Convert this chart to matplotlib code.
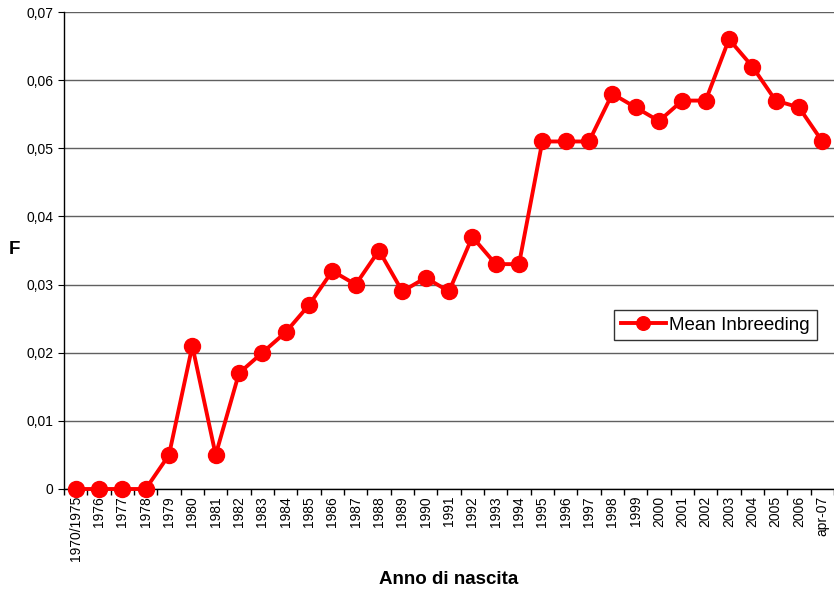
import matplotlib
matplotlib.use("Agg")
import matplotlib.pyplot as plt
from matplotlib.ticker import FuncFormatter, FixedLocator

plt.rcParams['font.family'] = ['Liberation Sans', 'DejaVu Sans']

years = ["1970/1975", "1976", "1977", "1978", "1979", "1980", "1981", "1982",
         "1983", "1984", "1985", "1986", "1987", "1988", "1989", "1990",
         "1991", "1992", "1993", "1994", "1995", "1996", "1997", "1998",
         "1999", "2000", "2001", "2002", "2003", "2004", "2005", "2006",
         "apr-07"]
mean_f = [0.0, 0.0, 0.0, 0.0, 0.005, 0.021, 0.005, 0.017,
          0.020, 0.023, 0.027, 0.032, 0.030, 0.035, 0.029, 0.031,
          0.029, 0.037, 0.033, 0.033, 0.051, 0.051, 0.051, 0.058,
          0.056, 0.054, 0.057, 0.057, 0.066, 0.062, 0.057, 0.056,
          0.051]

fig = plt.figure(figsize=(8.34, 5.96), dpi=100)
ax = fig.add_axes([64 / 834, 1 - 489 / 596, 770 / 834, 477 / 596])

x = list(range(len(years)))
ax.plot(x, mean_f, color="#ff0000", lw=2.8, marker="o", markersize=11.5,
        label="Mean Inbreeding", zorder=3, clip_on=False)

ax.set_xlim(-0.5, len(years) - 0.5)
ax.set_ylim(0, 0.07)
ax.set_yticks([i * 0.01 for i in range(8)])
ax.yaxis.set_major_formatter(FuncFormatter(
    lambda v, p: "0" if abs(v) < 1e-9 else f"{v:.2f}".replace(".", ",")))
ax.grid(axis="y", color="#606060", lw=1)
ax.set_axisbelow(True)

ax.set_xticks(x)
ax.set_xticklabels(years, rotation=90, fontsize=10)
ax.tick_params(axis="x", which="major", length=0, pad=5)
ax.xaxis.set_minor_locator(FixedLocator([i + 0.5 for i in range(-1, len(years))]))
ax.tick_params(axis="x", which="minor", length=4, width=1, color="black")
ax.tick_params(axis="y", length=4, labelsize=10, color="black")

for s in ["top", "right"]:
    ax.spines[s].set_visible(False)
for s in ["left", "bottom"]:
    ax.spines[s].set_color("black")
    ax.spines[s].set_linewidth(1)

ax.set_xlabel("Anno di nascita", fontsize=13.5, fontweight="bold", labelpad=7)
fig.text(14 / 834, 1 - 250 / 596, "F", fontsize=13.5, fontweight="bold",
         ha="center", va="center")

leg = ax.legend(loc="upper left", bbox_to_anchor=(550 / 770, 1 - 298 / 477),
                fontsize=13.5, frameon=True, fancybox=False, borderpad=0.35,
                borderaxespad=0, handlelength=2.4, handletextpad=0.2,
                markerscale=0.85)
leg.get_frame().set_edgecolor("black")
leg.get_frame().set_linewidth(1)

plt.savefig("out.png", dpi=100, facecolor="white")
